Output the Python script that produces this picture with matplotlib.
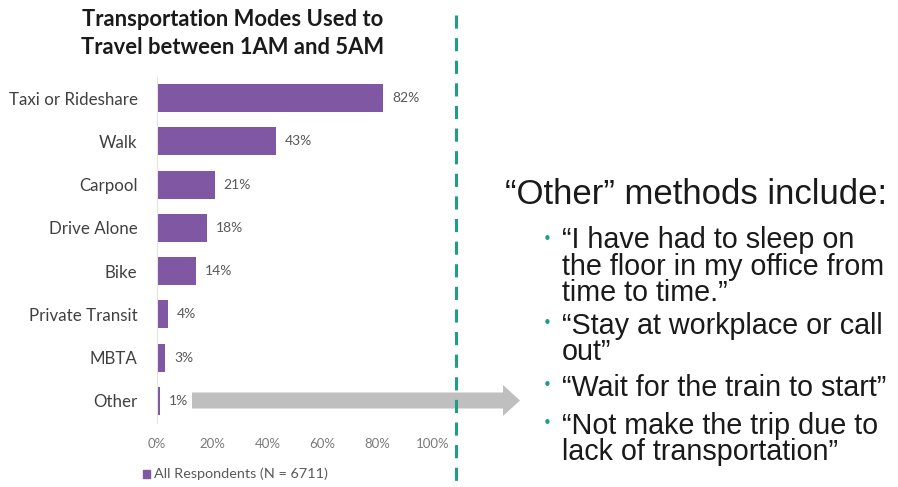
import matplotlib
matplotlib.use("Agg")
import matplotlib.pyplot as plt
from matplotlib.patches import FancyArrow, Rectangle

categories = ["Taxi or Rideshare", "Walk", "Carpool", "Drive Alone", "Bike",
              "Private Transit", "MBTA", "Other"]
values = [82, 43, 21, 18, 14, 4, 3, 1]
xticks = [0, 20, 40, 60, 80, 100]
xtick_labels = ["0%", "20%", "40%", "60%", "80%", "100%"]
title_lines = ["Transportation Modes Used to", "Travel between 1AM and 5AM"]
legend_label = "All Respondents (N = 6711)"
side_heading = "\u201cOther\u201d methods include:"
side_quotes = [
    "\u201cI have had to sleep on\nthe floor in my office from\ntime to time.\u201d",
    "\u201cStay at workplace or call\nout\u201d",
    "\u201cWait for the train to start\u201d",
    "\u201cNot make the trip due to\nlack of transportation\u201d",
]

purple = "#7F57A2"
teal = "#1E9E85"
W, H = 898, 487
fig = plt.figure(figsize=(W / 100, H / 100), dpi=100)
fig.patch.set_facecolor("white")


def fx(px):
    return px / W


def fy(py):
    return 1 - py / H


# axes: x 157..433 px, y ~ 77..422 px
ax_l, ax_r = 157, 433
ax_t, ax_b = 76.5, 422.5
ax = fig.add_axes([fx(ax_l), fy(ax_b), (ax_r - ax_l) / W, (ax_b - ax_t) / H])
ypos = list(range(len(categories)))
ax.barh(ypos, values, height=0.65, color=purple)
ax.set_ylim(len(categories) - 0.5, -0.5)
ax.set_xlim(0, 100)
ax.set_yticks(ypos)
ax.set_yticklabels(categories, fontsize=12.2, color="#404040", family="Lato")
ax.set_xticks(xticks)
ax.set_xticklabels(xtick_labels, fontsize=9.5, color="#7a7a7a", family="Lato")
ax.tick_params(axis="both", length=0)
ax.tick_params(axis="y", pad=14)
ax.tick_params(axis="x", pad=11)
for s in ["top", "right", "bottom"]:
    ax.spines[s].set_visible(False)
ax.spines["left"].set_color("#E3E3E3")
ax.spines["left"].set_linewidth(0.8)
for y, v in zip(ypos, values):
    ax.text(v + 3.2, y, f"{v}%", va="center", ha="left", fontsize=10,
            color="#595959", family="Lato")

# title
for yc, line in zip([20, 47], title_lines):
    fig.text(fx(233), fy(yc), line, ha="center", va="center", fontsize=15.8,
             fontweight="bold", family="Lato", color="#1a1a1a")

# legend
fig.patches.append(Rectangle((fx(143), fy(478)), 7 / W, 8 / H,
                             transform=fig.transFigure, color=purple))
fig.text(fx(154), fy(474), legend_label, ha="left", va="center",
         fontsize=10.4, color="#595959", family="Lato")

# dashed divider
fig.add_artist(plt.Line2D([fx(456), fx(456)], [fy(15), fy(482)],
                          transform=fig.transFigure, color=teal, lw=2.2,
                          linestyle=(0, (4.3, 3.1))))

# gray arrow
arr = FancyArrow(fx(192), fy(400.5), (520 - 192) / W, 0,
                 width=16 / H, head_width=31 / H, head_length=17 / W,
                 length_includes_head=True, transform=fig.transFigure,
                 color="#BFBFBF", lw=0)
fig.add_artist(arr)

# side text
fig.text(fx(505), fy(195), side_heading, ha="left", va="center",
         fontsize=25, color="#1a1a1a", family="Liberation Sans")
first_line_centers = [237, 322, 384, 422]
for q, yc in zip(side_quotes, first_line_centers):
    fig.text(fx(543), fy(yc + 2), "\u2022", ha="left", va="center",
             fontsize=11, color=teal, family="DejaVu Sans")
    fig.text(fx(562), fy(yc - 10.5), q, ha="left", va="top",
             fontsize=20.7, color="#1a1a1a", family="Liberation Sans",
             linespacing=0.93)

fig.savefig("out.png", dpi=100, facecolor="white")
